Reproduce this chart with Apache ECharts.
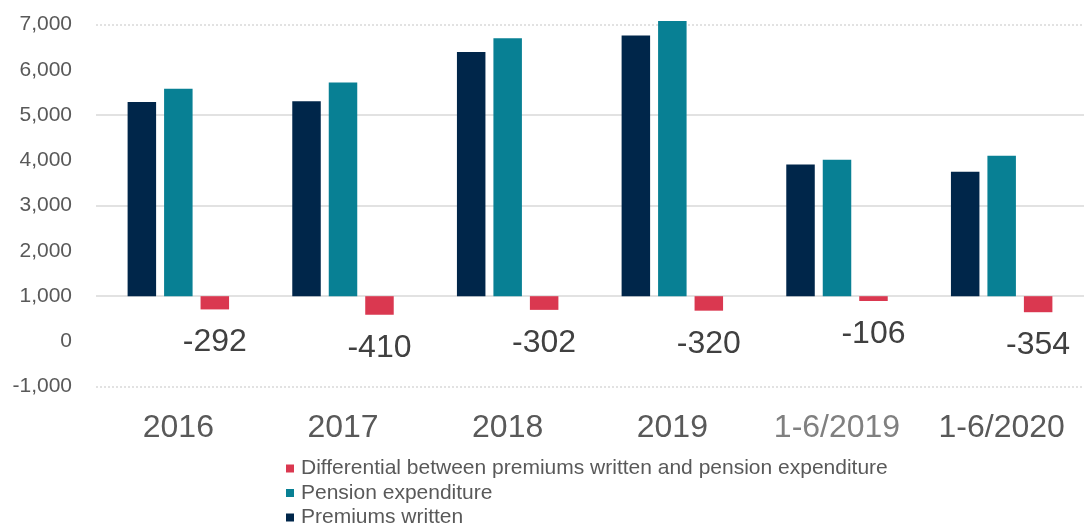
<!DOCTYPE html>
<html>
<head>
<meta charset="utf-8">
<script src="https://cdn.jsdelivr.net/npm/echarts@6/dist/echarts.min.js"></script>
<style>
  html, body { margin: 0; padding: 0; background: #fff; }
  #chart { width: 1084px; height: 528px; }
</style>
</head>
<body>
<div id="chart"></div>
<script>
const categories = ['2016', '2017', '2018', '2019', '1-6/2019', '1-6/2020']
const premiumsWritten = [4290, 4310, 5396, 5760, 2908, 2750]
const pensionExpenditure = [4582, 4720, 5698, 6080, 3014, 3104]
const differential = [-292, -410, -302, -320, -106, -354]
// tick labels as printed on the source chart (they sit one step above the real values)
const yTickLabels = ['-1,000', '0', '1,000', '2,000', '3,000', '4,000', '5,000', '6,000', '7,000']
const yMin = -2000
const yMax = 6000

const font = '"Liberation Sans", Arial, sans-serif'
const gridColor = '#d9d9d9'

const chart = echarts.init(document.getElementById('chart'))

chart.setOption({
  animation: false,
  textStyle: { fontFamily: font },
  grid: { left: 96, right: -6, top: 24.7, bottom: 141.3, containLabel: false },
  legend: {
    orient: 'vertical',
    left: 286,
    top: 458,
    height: 90,
    padding: 0,
    itemWidth: 8,
    itemHeight: 8,
    itemGap: 3.5,
    icon: 'rect',
    data: [
      'Differential between premiums written and pension expenditure',
      'Pension expenditure',
      'Premiums written'
    ],
    textStyle: { fontSize: 21, color: '#595959', fontFamily: font, padding: [0, 0, 0, 2] }
  },
  xAxis: {
    type: 'category',
    data: categories,
    axisLine: { show: false, onZero: false },
    axisTick: { show: false },
    axisLabel: {
      margin: 25,
      fontSize: 32,
      fontFamily: font,
      color: (v, i) => (i === 4 ? '#808080' : '#595959')
    }
  },
  yAxis: [
    {
      type: 'value',
      min: yMin,
      max: yMax,
      interval: 1000,
      axisLine: { show: false },
      axisTick: { show: false },
      splitLine: { show: false },
      axisLabel: {
        margin: 24,
        fontSize: 21,
        color: '#595959',
        fontFamily: font,
        formatter: v => yTickLabels[Math.round((v - yMin) / 1000)]
      }
    },
    {
      type: 'value',
      min: yMin,
      max: yMax,
      interval: 2000,
      position: 'left',
      axisLine: { show: false },
      axisTick: { show: false },
      axisLabel: { show: false },
      splitLine: {
        show: true,
        showMinLine: false,
        showMaxLine: false,
        lineStyle: { color: gridColor, width: 1.5 }
      }
    }
  ],
  series: [
    {
      name: 'Premiums written',
      type: 'bar',
      clip: false,
      barWidth: 28.5,
      barGap: '28%',
      itemStyle: { color: '#00264a' },
      data: premiumsWritten,
      markLine: {
        silent: true,
        z: 0,
        symbol: 'none',
        label: { show: false },
        lineStyle: { color: gridColor, type: [2, 2], width: 1.5 },
        data: [{ yAxis: yMin }, { yAxis: yMax }]
      }
    },
    {
      name: 'Pension expenditure',
      type: 'bar',
      clip: false,
      barWidth: 28.5,
      barGap: '28%',
      itemStyle: { color: '#088094' },
      data: pensionExpenditure
    },
    {
      name: 'Differential between premiums written and pension expenditure',
      type: 'bar',
      clip: false,
      barWidth: 28.5,
      barGap: '28%',
      itemStyle: { color: '#da3850' },
      label: {
        show: true,
        position: 'bottom',
        distance: 17,
        fontSize: 32,
        color: '#404040',
        fontFamily: font
      },
      data: differential
    }
  ]
})
</script>
</body>
</html>
